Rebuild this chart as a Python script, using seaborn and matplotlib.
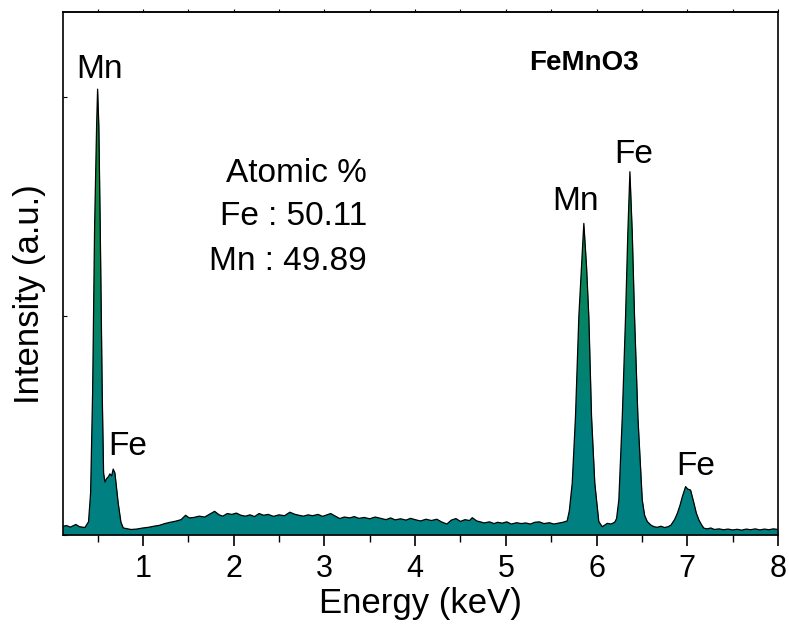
import numpy as np
import pandas as pd
import seaborn as sns
import matplotlib
import matplotlib.pyplot as plt
from matplotlib.colors import LinearSegmentedColormap
from matplotlib.ticker import MultipleLocator
matplotlib.use('Agg')

#%% data (energy in keV, intensity in counts)
energy = [0.12, 0.157, 0.20, 0.26, 0.30, 0.36, 0.40, 0.423, 0.445, 0.467, 0.489, 0.500,
          0.514, 0.529, 0.551, 0.566, 0.581, 0.600, 0.617, 0.636, 0.655, 0.672, 0.691,
          0.727, 0.757, 0.783, 0.83, 0.87, 0.93, 1.00, 1.06, 1.12, 1.18, 1.24, 1.30, 1.36,
          1.42, 1.47, 1.51, 1.56, 1.62, 1.68, 1.74, 1.79, 1.84, 1.88, 1.93, 1.98, 2.03,
          2.08, 2.13, 2.18, 2.23, 2.28, 2.33, 2.38, 2.44, 2.50, 2.56, 2.62, 2.67, 2.72,
          2.77, 2.82, 2.87, 2.93, 2.98, 3.03, 3.07, 3.12, 3.17, 3.22, 3.28, 3.33, 3.38,
          3.44, 3.50, 3.56, 3.62, 3.68, 3.73, 3.78, 3.84, 3.90, 3.95, 4.00, 4.06, 4.12,
          4.18, 4.24, 4.29, 4.35, 4.40, 4.45, 4.50, 4.55, 4.60, 4.63, 4.68, 4.72, 4.76,
          4.82, 4.87, 4.91, 4.96, 5.01, 5.06, 5.12, 5.17, 5.22, 5.27, 5.32, 5.37, 5.42,
          5.48, 5.53, 5.58, 5.63, 5.676, 5.70, 5.732, 5.768, 5.805, 5.834, 5.860, 5.890,
          5.915, 5.945, 5.981, 6.025, 6.063, 6.09, 6.118, 6.16, 6.20, 6.221, 6.246, 6.284,
          6.320, 6.345, 6.368, 6.394, 6.419, 6.456, 6.504, 6.530, 6.560, 6.60, 6.633,
          6.67, 6.71, 6.75, 6.79, 6.82, 6.86, 6.891, 6.92, 6.946, 6.982, 7.004, 7.037,
          7.074, 7.10, 7.129, 7.16, 7.184, 7.22, 7.26, 7.30, 7.35, 7.40, 7.45, 7.50, 7.55,
          7.60, 7.65, 7.70, 7.75, 7.80, 7.85, 7.90, 7.95, 8.00]
counts = [40, 43, 36, 48, 38, 34, 60, 192, 648, 1406, 1863, 2036,
          1863, 1406, 648, 283, 242, 258, 265, 279, 270, 301, 283,
          146, 59, 32, 28, 25, 27, 32, 35, 40, 44, 52, 58, 63,
          70, 90, 78, 80, 86, 82, 96, 108, 92, 86, 98, 94, 100,
          90, 86, 92, 84, 98, 90, 94, 85, 92, 88, 104, 95, 90,
          86, 92, 88, 94, 85, 92, 98, 86, 75, 82, 78, 84, 76,
          80, 74, 82, 76, 70, 78, 69, 74, 68, 76, 70, 64, 72,
          66, 72, 60, 50, 68, 75, 62, 70, 66, 79, 64, 60, 55,
          60, 52, 58, 54, 60, 50, 56, 52, 55, 50, 58, 60, 52,
          56, 50, 54, 58, 64, 110, 236, 540, 997, 1225, 1423, 1225,
          997, 540, 236, 61, 38, 45, 53, 50, 58, 75, 160, 540,
          997, 1378, 1659, 1378, 997, 540, 160, 90, 61, 45, 38,
          35, 40, 34, 38, 45, 70, 99, 135, 175, 221, 210, 205,
          145, 100, 68, 45, 31, 28, 32, 25, 28, 24, 27, 23, 26,
          22, 27, 24, 28, 23, 27, 24, 28, 25]

peak_labels = ["Mn", "Fe", "Mn", "Fe", "Fe"]
peak_label_x = [0.52, 0.83, 5.77, 6.41, 7.09]
peak_label_y = [2085, 365, 1484, 1699, 274]

composition_lines = ["Atomic %", "Fe : 50.11", "Mn : 49.89"]
composition_y = [1612, 1415, 1210]

sample_name = "FeMnO3"

df = pd.DataFrame({"energy": energy, "counts": counts})

#%% style
sns.set_style("ticks")
plt.rcParams['font.family'] = ['Liberation Sans', 'DejaVu Sans']
plt.rcParams['text.color'] = 'black'
plt.rcParams['axes.labelcolor'] = 'black'
plt.rcParams['xtick.color'] = 'black'
plt.rcParams['ytick.color'] = 'black'

xmin, xmax = 0.12, 8.0
ymax = 2388

fig = plt.figure(figsize=(7.89, 6.35), dpi=100)
ax = fig.add_axes([0.080, 0.1575, 0.906, 0.8235])

# filled spectrum with a teal -> green gradient
poly = ax.fill_between(df.energy, df.counts, 0, color="#008080", lw=0, zorder=1)
grad_cmap = LinearSegmentedColormap.from_list(
    "edx", [(0, "#008080"), (0.2, "#008080"), (0.7, "#0f8a3e"), (1, "#138c30")])
grad = np.linspace(0, 1, 256).reshape(-1, 1)
im = ax.imshow(grad, extent=[xmin, xmax, 0, ymax], origin="lower",
               aspect="auto", cmap=grad_cmap, zorder=2)
im.set_clip_path(poly.get_paths()[0], transform=ax.transData)

sns.lineplot(data=df, x="energy", y="counts", color="black",
             linewidth=0.9, ax=ax, zorder=3)

ax.set_xlim(xmin, xmax)
ax.set_ylim(0, ymax)

#%% axes and ticks
ax.xaxis.set_major_locator(MultipleLocator(1))
ax.xaxis.set_minor_locator(MultipleLocator(0.5))
ax.tick_params(axis="x", which="major", direction="out", length=8, width=1.2,
               labelsize=22, pad=6, colors="black")
ax.tick_params(axis="x", which="minor", direction="out", length=5, width=1.0)
ax.set_yticks([0, 1000, 2000])
ax.tick_params(axis="y", which="major", direction="in", length=3, width=0.8,
               labelleft=False)

top = ax.secondary_xaxis("top")
top.xaxis.set_major_locator(MultipleLocator(0.5))
top.tick_params(direction="out", length=2.5, width=0.8, labeltop=False)
top.spines["top"].set_linewidth(1.2)

for sp in ax.spines.values():
    sp.set_linewidth(1.2)
    sp.set_color("black")

ax.set_xlabel("Energy (keV)", fontsize=25, labelpad=2, color="black")
ax.set_ylabel("Intensity (a.u.)", fontsize=25, color="black")
ax.yaxis.set_label_coords(-0.024, 0.46)

#%% annotations
for lab, x, y in zip(peak_labels, peak_label_x, peak_label_y):
    ax.text(x, y, lab, fontsize=24, ha="center", va="baseline", color="black", zorder=4)

for line, y in zip(composition_lines, composition_y):
    ax.text(3.47, y, line, fontsize=24, ha="right", va="baseline", color="black", zorder=4)

ax.text(5.86, 2123, sample_name, fontsize=20, fontweight="bold",
        ha="center", va="baseline", color="black", zorder=4)

fig.savefig("out.png", dpi=100)
